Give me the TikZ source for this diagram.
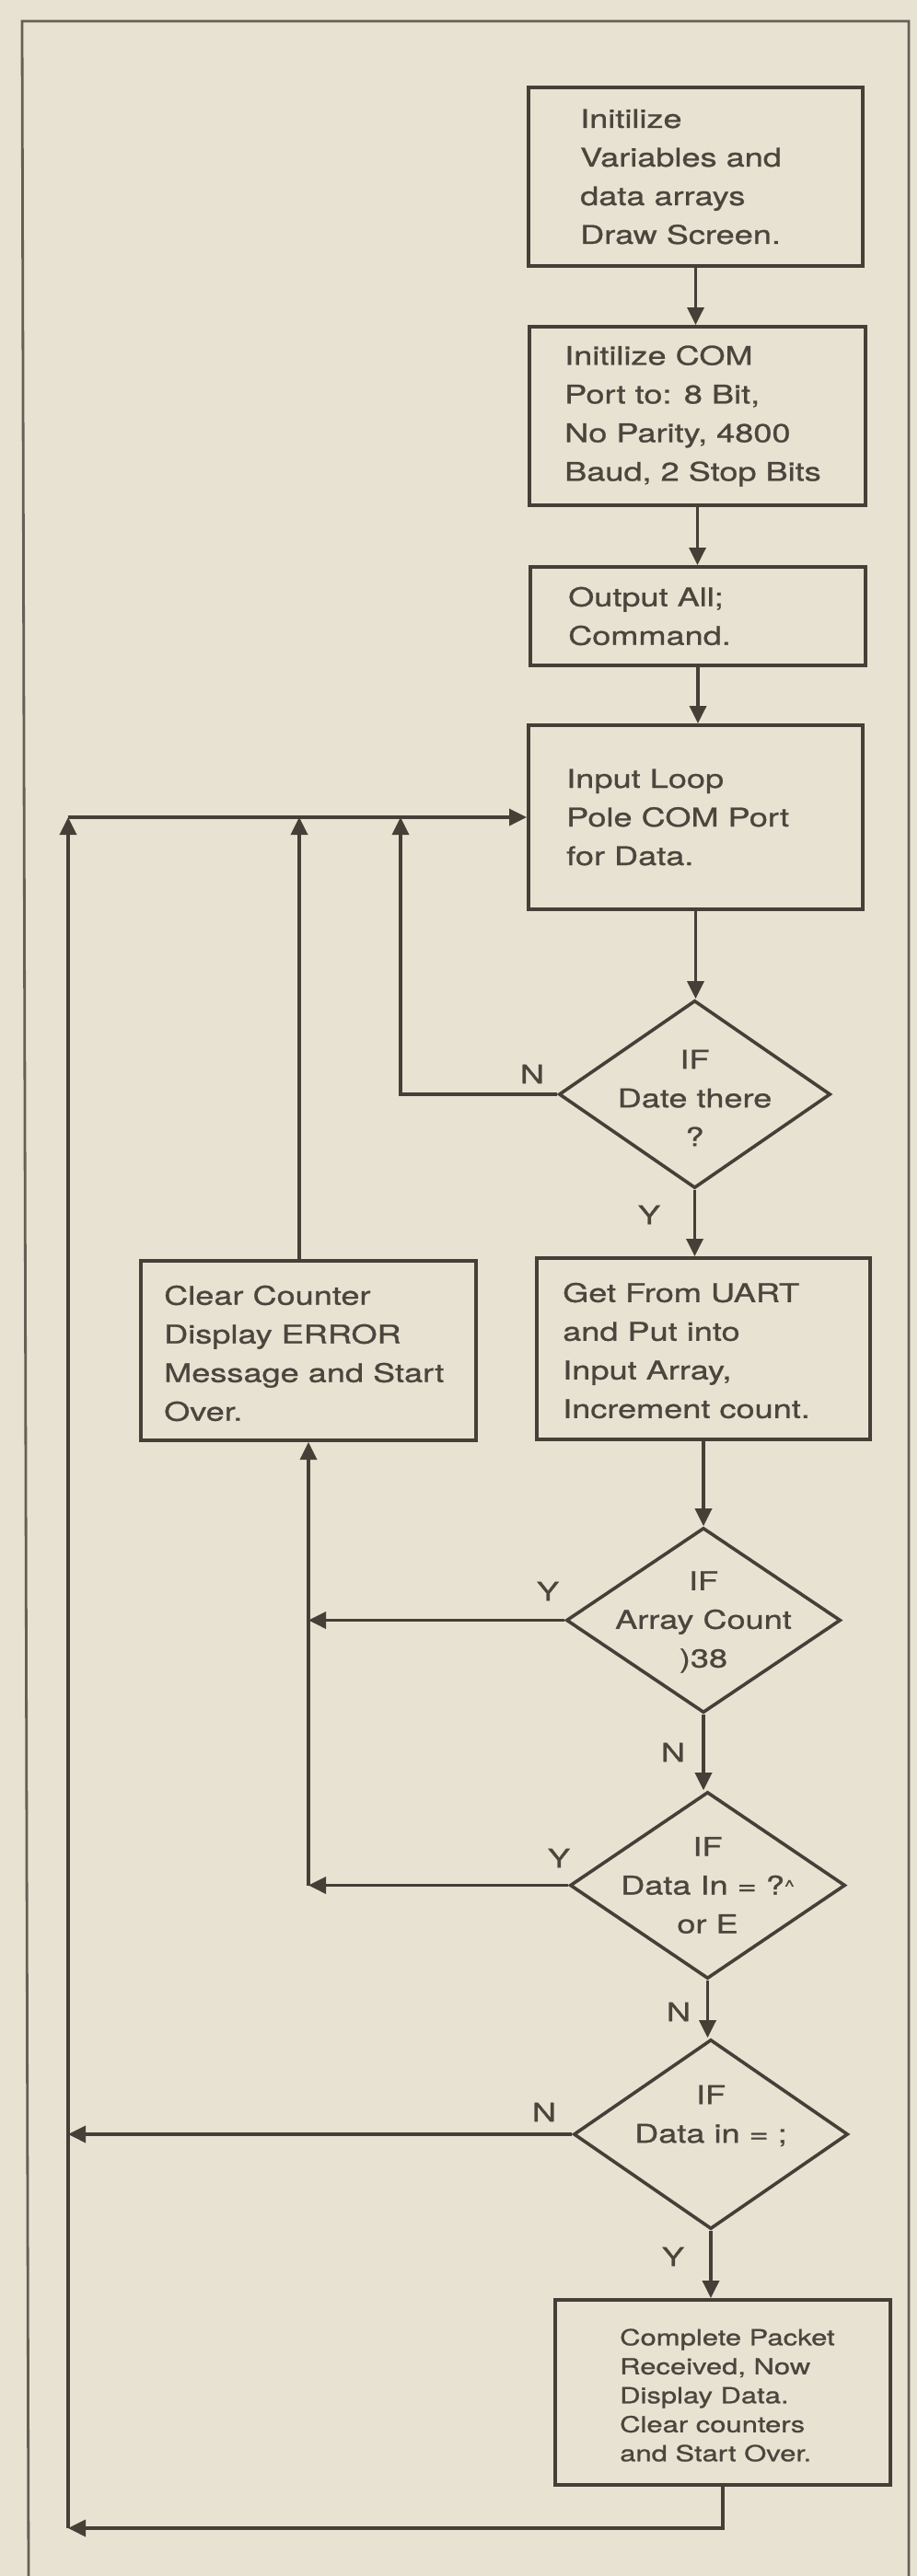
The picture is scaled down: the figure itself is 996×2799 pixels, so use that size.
\documentclass[tikz,border=0pt]{standalone}
\usepackage{fontspec}
\newfontfamily\hv[FakeStretch=1.29,FakeBold=0.9]{TeX Gyre Heros}
\usetikzlibrary{shapes.geometric,arrows.meta}
\definecolor{paper}{RGB}{232,226,210}
\definecolor{ink}{RGB}{68,64,55}
\definecolor{txt}{RGB}{74,70,61}
\definecolor{framec}{RGB}{100,96,86}
\begin{document}
\begin{tikzpicture}[x=1pt,y=-1pt,
  box/.style={draw=ink, line width=4pt, rectangle, inner sep=0pt},
  dia/.style={draw=ink, line width=3.6pt, diamond, inner sep=0pt},
  lbl/.style={font=\hv\fontsize{28}{42}\selectfont, text=txt, align=left, inner sep=0pt, anchor=west},
  slbl/.style={font=\hv\fontsize{24}{31.5}\selectfont, text=txt, align=left, inner sep=0pt, anchor=west},
  dlbl/.style={font=\hv\fontsize{28}{42}\selectfont, text=txt, align=center, inner sep=0pt},
  yn/.style={font=\hv\fontsize{28}{34}\selectfont, text=txt, inner sep=0pt},
  arr/.style={draw=ink, line width=3.5pt, -{Triangle[length=19pt,width=18pt]}},
  frame/.style={draw=framec, line width=2.8pt},
]
\useasboundingbox (0,0) rectangle (996,2799);
\fill[paper] (0,0) rectangle (996,2799);
% frame
\draw[frame] (31,2799) -- (24,23) -- (987,23) -- (987,2799);

% boxes
\node[box, minimum width=363pt, minimum height=194pt] (b1) at (755.5,192) {};
\node[box, minimum width=365pt, minimum height=194pt] (b2) at (757.5,452) {};
\node[box, minimum width=364pt, minimum height=107pt] (b3) at (758,669.5) {};
\node[box, minimum width=363pt, minimum height=200pt] (b4) at (755.5,888) {};
\node[box, minimum width=362pt, minimum height=197pt] (uart) at (764,1465.5) {};
\node[box, minimum width=364pt, minimum height=195pt] (clr) at (335,1467.5) {};
\node[box, minimum width=364pt, minimum height=201pt] (fin) at (785,2599.5) {};

% box texts
\node[lbl] (t1) at ([xshift=58pt]b1.west) {Initilize\\Variables and\\data arrays\\Draw Screen.};
\node[lbl] (t2) at ([xshift=40pt]b2.west) {Initilize COM\\Port to: 8 Bit,\\No Parity, 4800\\Baud, 2 Stop Bits};
\node[lbl] (t3) at ([xshift=43pt]b3.west) {Output All;\\Command.};
\node[lbl] (t4) at ([xshift=43pt]b4.west) {Input Loop\\Pole COM Port\\for Data.};
\node[lbl] (tu) at ([xshift=30pt,yshift=-2pt]uart.west) {Get From UART\\and Put into\\Input Array,\\Increment count.};
\node[lbl] (tc) at ([xshift=27pt,yshift=-3pt]clr.west) {Clear Counter\\Display ERROR\\Message and Start\\Over.};
\node[slbl] (tf) at ([xshift=72pt,yshift=-3pt]fin.west) {\mbox{Complete Packet}\\Received, Now\\Display Data.\\Clear counters\\and Start Over.};

% diamonds
\node[dia, minimum width=295pt, minimum height=204pt] (d1) at (754.5,1189) {};
\node[dia, minimum width=298pt, minimum height=201pt] (d2) at (764,1760.5) {};
\node[dia, minimum width=299pt, minimum height=203pt] (d3) at (768.5,2048.5) {};
\node[dia, minimum width=298pt, minimum height=206pt] (d4) at (772,2319) {};

\node[dlbl] (td1) at ([yshift=-4pt]d1.center) {IF\\Date there\\?};
\node[dlbl] (td2) at ([yshift=-2pt]d2.center) {IF\\Array Count\\)38};
\node[dlbl] (td3) at (d3.center) {IF\\Data In = ?{\fontsize{18}{18}\selectfont\raisebox{0.3ex}{\textasciicircum}}\\or E};
\node[dlbl] (td4) at ([yshift=20pt]d4.center) {IF\\Data in = ;};

% Y / N labels
\node[yn] (n1) at (578,1167) {N};
\node[yn] (y1) at (705,1320) {Y};
\node[yn] (y2) at (595,1729) {Y};
\node[yn] (n2) at (731,1904) {N};
\node[yn] (y3) at (607,2019) {Y};
\node[yn] (n3) at (737,2186) {N};
\node[yn] (n4) at (591,2295) {N};
\node[yn] (y4) at (731,2452) {Y};

% junction coordinates
\coordinate (ot) at (74,888);
\coordinate (ob) at (74,2747);
\coordinate (c1) at (435,888);
\coordinate (c2) at (325,888);

% main chain
\draw[arr] (b1.south) -- (b1.south |- b2.north);
\draw[arr] (b2.south) -- (b2.south |- b3.north);
\draw[arr] (b3.south) -- (b3.south |- b4.north);
\draw[arr] (b4.south) -- (b4.south |- d1.north);
\draw[arr] (d1.south) -- (d1.south |- uart.north);
\draw[arr] (uart.south) -- (uart.south |- d2.north);
\draw[arr] (d2.south) -- (d2.south |- d3.north);
\draw[arr] (d3.south) -- (d3.south |- d4.north);
\draw[arr] (d4.south) -- (d4.south |- fin.north);

% loops back
\draw[arr] (ot) -- (b4.west);
\draw[arr] (d1.west) -| (c1);
\draw[arr] ([xshift=-10pt]clr.north) -- (c2);
\draw[arr] (d2.west) -- (d2.west -| clr.south);
\draw[arr] (d3.west) -- (d3.west -| clr.south);
\draw[arr] (d3.west -| clr.south) -- (clr.south);
\draw[arr] (d4.west) -- (d4.west -| ot);
\draw[arr] (fin.south) |- (ob);
\draw[arr] (ob) -- (ot);
\end{tikzpicture}
\end{document}
